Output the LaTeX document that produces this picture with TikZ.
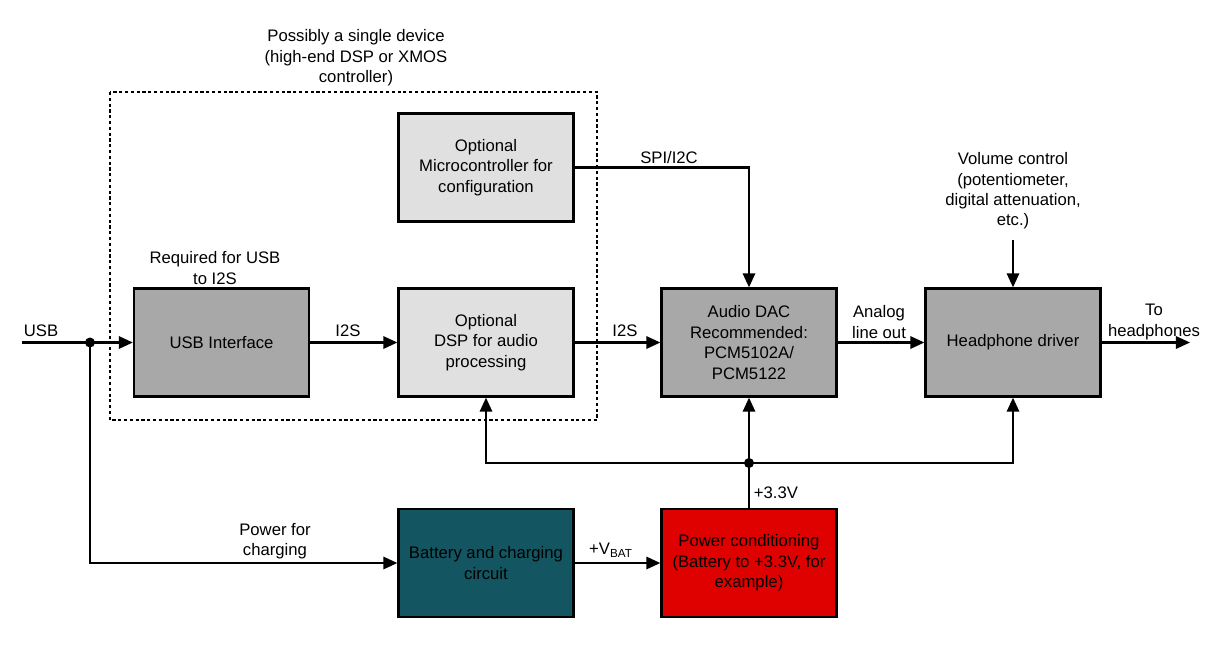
\documentclass[tikz,border=0pt]{standalone}
\usepackage{fontspec}
\setmainfont{Liberation Sans}
\usetikzlibrary{arrows.meta}
\definecolor{boxgray}{HTML}{A8A8A8}
\definecolor{boxlight}{HTML}{E0E0E0}
\definecolor{boxteal}{HTML}{135560}
\definecolor{boxred}{HTML}{DF0000}
\begin{document}
\begin{tikzpicture}[x=0.02cm,y=-0.02cm,
		font=\fontsize{9.5}{11.6}\selectfont,
		block/.style={draw,line width=1.3pt,minimum width=3.5cm,minimum height=2.16cm,align=center,inner sep=2pt},
		lbl/.style={align=center,inner sep=0pt},
		wire/.style={line width=1.3pt},
		arr/.style={wire,-{Triangle[length=8pt,width=7pt]}}]
		\useasboundingbox (0,0) rectangle (1230,664);
		\node[block,fill=boxgray] (usb) at (221.5,342.5) {USB Interface};
		\node[block,fill=boxlight] (dsp) at (486,342.5) {Optional\\DSP for audio\\processing};
		\node[block,fill=boxlight] (mcu) at (486,167.5) {Optional\\Microcontroller for\\configuration};
		\node[block,fill=boxgray] (dac) at (749,342.5) {Audio DAC\\Recommended:\\PCM5102A/\\PCM5122};
		\node[block,fill=boxgray] (hp) at (1013,342.5) {Headphone driver};
		\node[block,fill=boxteal] (bat) at (486,563) {Battery and charging\\circuit};
		\node[block,fill=boxred] (pwr) at (749,563) {Power conditioning\\(Battery to +3.3V, for\\example)};
		\draw[line width=1pt,dash pattern=on 1.8pt off 1.5pt] (110,92) rectangle (597,420);
		\node[lbl] (single) at (356,58) {Possibly a single device\\(high-end DSP or XMOS\\controller)};
		\node[lbl] (req) at (215,268) {Required for USB\\to I2S};
		\node[lbl] (usbin) at (41,331) {USB};
		\node[lbl] (i2sa) at (348,331) {I2S};
		\node[lbl] (i2sb) at (625,331) {I2S};
		\node[lbl] (spi) at (669,158) {SPI/I2C};
		\node[lbl] (aout) at (879,322) {Analog\\line out};
		\node[lbl] (tohp) at (1154,322) {To\\headphones};
		\node[lbl] (vol) at (1013,191) {Volume control\\(potentiometer,\\digital attenuation,\\etc.)};
		\node[lbl] (chg) at (275,541) {Power for\\charging};
		\node[lbl] (vbat) at (611,550) {+V\textsubscript{BAT}};
		\node[lbl] (v33) at (776,493) {+3.3V};
		\coordinate (in) at (22,342.5);
		\coordinate (tap) at (90,342.5);
		\coordinate (out) at (1190,342.5);
		\coordinate (join) at (749,463);
		\draw[arr] (in) -- (usb);
		\fill (tap) circle (5);
		\draw[arr] (tap) |- (bat);
		\draw[arr] (usb) -- (dsp);
		\draw[arr] (dsp) -- (dac);
		\draw[arr] (dac) -- (hp);
		\draw[arr] (hp) -- (out);
		\draw[arr] (mcu.east) -| (dac.north);
		\draw[arr] (vol.south) ++(0,10) -- (hp.north);
		\draw[arr] (bat) -- (pwr);
		\draw[wire] (pwr.north) -- (join);
		\fill (join) circle (5);
		\draw[arr] (join) -- (dac.south);
		\draw[arr] (join) -| (dsp.south);
		\draw[arr] (join) -| (hp.south);
		\end{tikzpicture}
\end{document}
